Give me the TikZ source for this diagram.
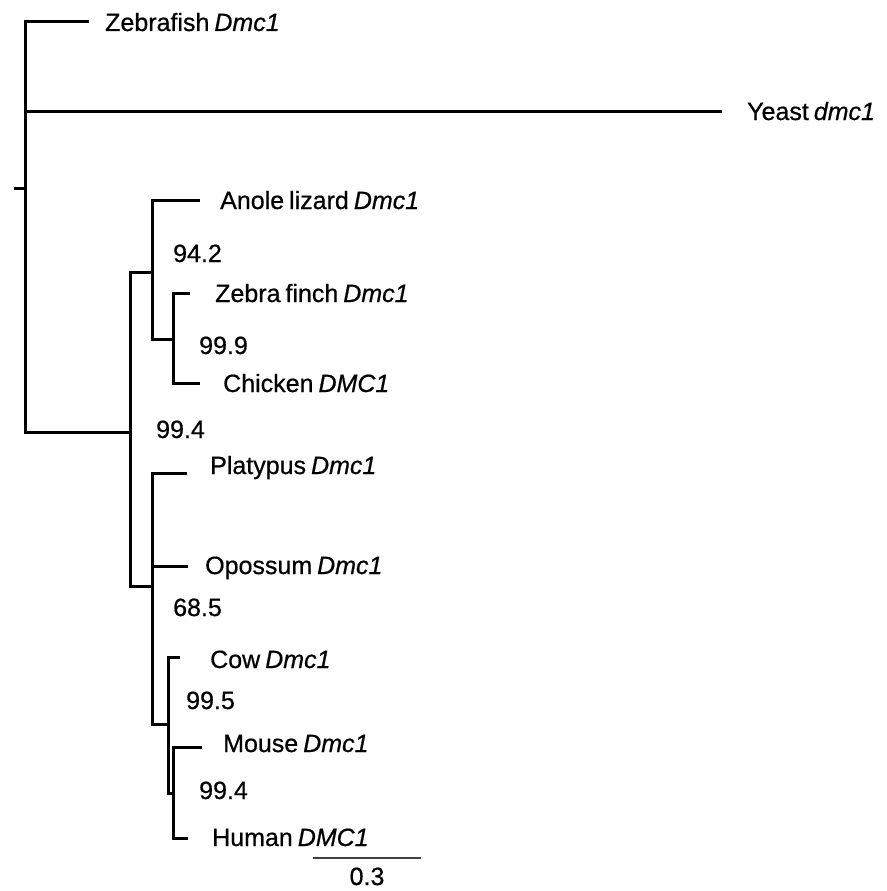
\documentclass[tikz,border=0pt]{standalone}
\usepackage{fontspec}
\setmainfont{Liberation Sans}[FakeBold=0.6]
\newcommand\mylblfont{\fontsize{25}{28}\selectfont\spaceskip=0.2em\relax}
\begin{document}
\begin{tikzpicture}[x=1pt,y=-1pt,
  branch/.style={line width=3pt, line cap=rect, line join=miter, black},
  lbl/.style={anchor=west, inner sep=0pt, text height=18pt, text depth=0pt,
    font=\mylblfont},
  scalebar/.style={line width=1.8pt, black!75}]
\useasboundingbox (0,0) rectangle (886,891);
% internal node coordinates
\coordinate (s) at (15,188);
\coordinate (r) at (25,188);
\coordinate (n1) at (130,432);
\coordinate (n2) at (152,272);
\coordinate (n3) at (173,339);
\coordinate (n4) at (152,586);
\coordinate (n5) at (168,724);
\coordinate (n6) at (173,793);
% leaf tips
\coordinate (zfT) at (87,22);
\coordinate (ysT) at (720,111);
\coordinate (anT) at (198,200);
\coordinate (zbT) at (188,293);
\coordinate (chT) at (198,383);
\coordinate (plT) at (185,473);
\coordinate (opT) at (186,566);
\coordinate (cwT) at (178,657);
\coordinate (msT) at (200,747);
\coordinate (huT) at (186,838);
% branches
\draw[branch] (s) -- (r);
\draw[branch] (zfT) -| (r) |- (n1);
\draw[branch] (r) |- (ysT);
\draw[branch] (n2) -| (n1) |- (n4);
\draw[branch] (anT) -| (n2) |- (n3);
\draw[branch] (zbT) -| (n3) |- (chT);
\draw[branch] (plT) -| (n4) |- (n5);
\draw[branch] (n4) |- (opT);
\draw[branch] (cwT) -| (n5) |- (n6);
\draw[branch] (msT) -| (n6) |- (huT);
% leaf labels
\node[lbl] (zfL) at (105,22) {Zebrafish \textit{Dmc1}};
\node[lbl] (ysL) at (747,111) {Yeast \textit{dmc1}};
\node[lbl] (anL) at (220,200) {Anole lizard \textit{Dmc1}};
\node[lbl] (zbL) at (215,293) {Zebra finch \textit{Dmc1}};
\node[lbl] (chL) at (223,383) {Chicken \textit{DMC1}};
\node[lbl] (plL) at (210,465) {Platypus \textit{Dmc1}};
\node[lbl] (opL) at (205,565) {Opossum \textit{Dmc1}};
\node[lbl] (cwL) at (210,659) {Cow \textit{Dmc1}};
\node[lbl] (msL) at (223,743) {Mouse \textit{Dmc1}};
\node[lbl] (huL) at (212,837) {Human \textit{DMC1}};
% bootstrap values
\node[lbl] (b1) at (173,253) {94.2};
\node[lbl] (b2) at (199,345) {99.9};
\node[lbl] (b3) at (156,429) {99.4};
\node[lbl] (b4) at (173,607) {68.5};
\node[lbl] (b5) at (186,700) {99.5};
\node[lbl] (b6) at (199,790) {99.4};
% scale bar
\coordinate (sbL) at (313,858);
\coordinate (sbR) at (421,858);
\draw[scalebar] (sbL) -- (sbR);
\node[lbl, anchor=center] (sbT) at (367,876) {0.3};
\end{tikzpicture}
\end{document}
